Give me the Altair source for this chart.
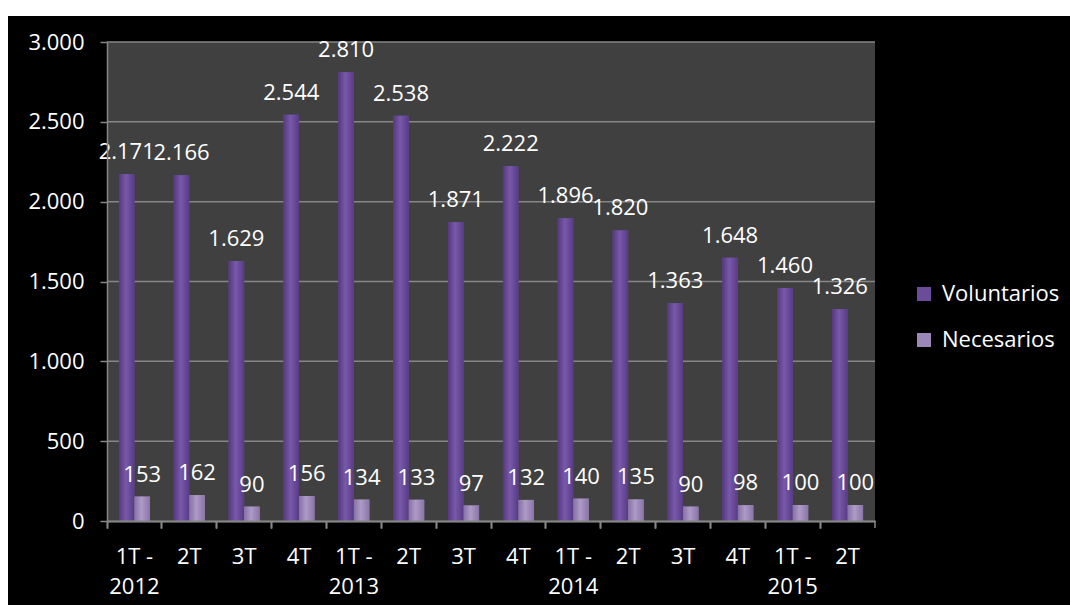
import altair as alt
import pandas as pd

# ---- data ----
quarters = ["1T", "2T", "3T", "4T", "1T", "2T", "3T", "4T", "1T", "2T", "3T", "4T", "1T", "2T"]
years = ["2012", "2012", "2012", "2012", "2013", "2013", "2013", "2013",
         "2014", "2014", "2014", "2014", "2015", "2015"]
voluntarios = [2171, 2166, 1629, 2544, 2810, 2538, 1871, 2222, 1896, 1820, 1363, 1648, 1460, 1326]
necesarios = [153, 162, 90, 156, 134, 133, 97, 132, 140, 135, 90, 98, 100, 100]
series = ["Voluntarios", "Necesarios"]
series_colors = ["#6a4c98", "#9c88b6"]
y_ticks = [0, 500, 1000, 1500, 2000, 2500, 3000]

# ---- layout / style ----
W, H = 768, 479
PAD = {"left": 107, "top": 42, "right": 195, "bottom": 84}
FONT = "Open Sans"
FS = 22
GRID = "#868686"
PLOT_BG = "#404040"

keys = [f"{y}|{q}" for q, y in zip(quarters, years)]
rows = []
for k, v, n in zip(keys, voluntarios, necesarios):
    rows.append({"periodo": k, "serie": series[0], "valor": v})
    rows.append({"periodo": k, "serie": series[1], "valor": n})
df = pd.DataFrame(rows)

one = alt.Data(values=[{"a": 1}])

black_bg = alt.Chart(one).mark_rect(color="#000000").encode(
    x=alt.value(-(PAD["left"] - 8)), x2=alt.value(W + PAD["right"]),
    y=alt.value(-(PAD["top"] - 16)), y2=alt.value(H + PAD["bottom"]),
)
plot_bg = alt.Chart(one).mark_rect(color=PLOT_BG).encode(
    x=alt.value(0), x2=alt.value(W), y=alt.value(0), y2=alt.value(H),
)
# closing tick at the right end of the category axis
end_tick = alt.Chart(one).mark_rule(color=GRID, strokeWidth=1.5).encode(
    x=alt.value(W), y=alt.value(H), y2=alt.value(H + 7),
)

x_scale = alt.Scale(domain=keys, paddingInner=0, paddingOuter=0)
xo_scale = alt.Scale(domain=series, paddingInner=0, paddingOuter=0.77)
y_scale = alt.Scale(domain=[0, 3000], nice=False, zero=True)

y_axis = alt.Axis(values=y_ticks, grid=False, title=None, domain=True,
                  domainColor=GRID, domainWidth=1.5, tickColor=GRID, tickWidth=1.5,
                  tickSize=7, labelPadding=16, labelFontSize=FS, labelColor="white",
                  labelFont=FONT,
                  labelExpr="replace(format(datum.value, ','), ',', '.')",
                  zindex=1)

grid = alt.Chart(alt.Data(values=[{"valor": t} for t in y_ticks[1:]])).mark_rule(
    color=GRID, strokeWidth=1.5
).encode(y=alt.Y("valor:Q", scale=y_scale, axis=y_axis))

label_expr_x = ("split(datum.label,'|')[1] == '1T' ? "
                "[split(datum.label,'|')[1] + ' -', split(datum.label,'|')[0]] : "
                "split(datum.label,'|')[1]")

x_tick_axis = alt.Axis(bandPosition=0, labels=False, ticks=True, tickSize=7,
                       tickColor=GRID, tickWidth=1.5, domain=True, domainColor=GRID,
                       domainWidth=1.5, grid=False, title=None, orient="bottom", zindex=1)

bars = alt.Chart(df).mark_bar().encode(
    x=alt.X("periodo:N", sort=keys, scale=x_scale, axis=x_tick_axis),
    xOffset=alt.XOffset("serie:N", sort=series, scale=xo_scale),
    y=alt.Y("valor:Q", scale=y_scale, axis=y_axis),
    color=alt.Color("serie:N", scale=alt.Scale(domain=series, range=series_colors),
                    legend=alt.Legend(title=None, orient="none", legendX=806, legendY=241,
                                      symbolType="square", symbolSize=196,
                                      symbolStrokeWidth=0, labelFontSize=FS,
                                      labelColor="white", labelFont=FONT,
                                      labelOffset=7, rowPadding=24, zindex=1)),
)

grad_vol = alt.Gradient(gradient="linear", x1=0, x2=1, y1=0, y2=0, stops=[
    alt.GradientStop(offset=0, color="#553880"),
    alt.GradientStop(offset=0.45, color="#7859aa"),
    alt.GradientStop(offset=1, color="#583b85"),
])
grad_nec = alt.Gradient(gradient="linear", x1=0, x2=1, y1=0, y2=0, stops=[
    alt.GradientStop(offset=0, color="#8671a4"),
    alt.GradientStop(offset=0.45, color="#ae9bc7"),
    alt.GradientStop(offset=1, color="#8a75a8"),
])


def overlay(name, grad):
    return alt.Chart(df).transform_filter(
        alt.datum.serie == name
    ).mark_bar(color=grad).encode(
        x=alt.X("periodo:N", sort=keys, scale=x_scale, axis=x_tick_axis),
        xOffset=alt.XOffset("serie:N", sort=series, scale=xo_scale),
        y=alt.Y("valor:Q", scale=y_scale, axis=y_axis),
    )


labels = alt.Chart(df).transform_calculate(
    txt="replace(format(datum.valor, ','), ',', '.')"
).mark_text(color="white", fontSize=FS, font=FONT, baseline="alphabetic", dy=-15).encode(
    x=alt.X("periodo:N", sort=keys, scale=x_scale,
            axis=alt.Axis(labelExpr=label_expr_x, ticks=False, domain=False, grid=False,
                          title=None, labelFontSize=FS, labelColor="white", labelFont=FONT,
                          labelLineHeight=30, labelPadding=25, labelAngle=0,
                          orient="bottom", zindex=1)),
    xOffset=alt.XOffset("serie:N", sort=series, scale=xo_scale),
    y=alt.Y("valor:Q", scale=y_scale, axis=y_axis),
    text="txt:N",
)

chart = alt.layer(
    black_bg, plot_bg, grid, bars, overlay(series[0], grad_vol), overlay(series[1], grad_nec),
    labels, end_tick
).resolve_axis(
    x="independent"
).properties(
    width=W, height=H,
    autosize=alt.AutoSizeParams(type="none"),
    padding=PAD,
    background="white",
).configure_view(stroke=None).configure(font=FONT)

chart.save("out.html", embed_options={"renderer": "svg", "actions": False})
